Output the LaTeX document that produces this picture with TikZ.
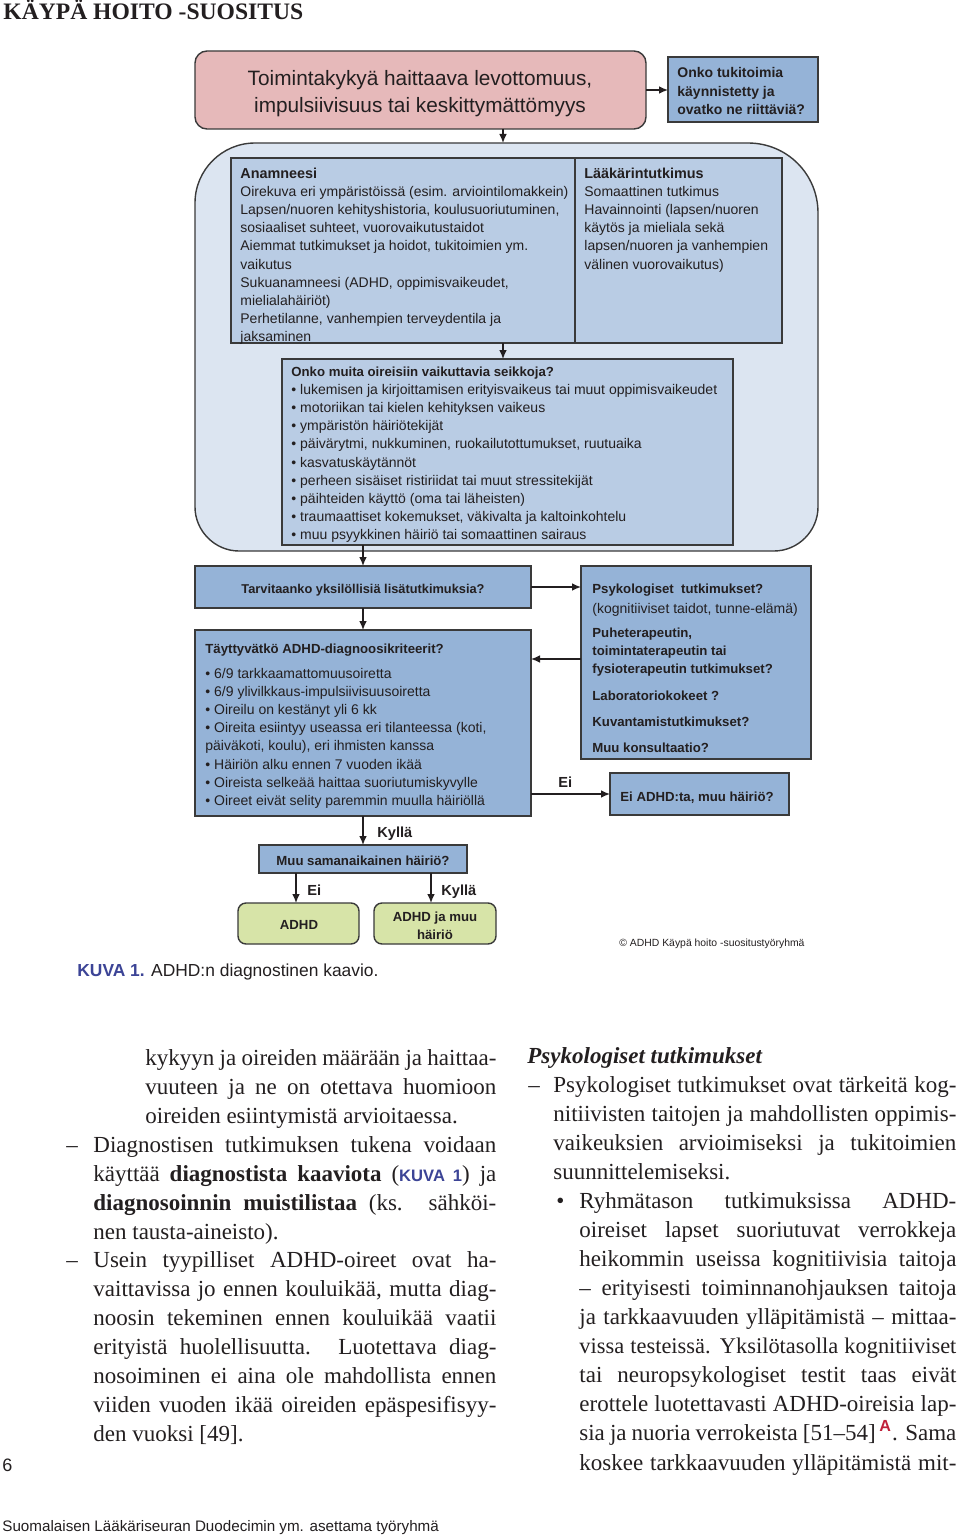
\documentclass[tikz,border=0pt]{standalone}
\usepackage{fontspec}
\setmainfont{Liberation Serif}
\setsansfont{Liberation Sans}
\usetikzlibrary{arrows.meta}
\definecolor{pinkfill}{HTML}{E6B9BA}
\definecolor{midblue}{HTML}{95B3D7}
\definecolor{lightblue}{HTML}{B9CCE4}
\definecolor{paleblue}{HTML}{DCE5F1}
\definecolor{greenfill}{HTML}{D7E4A8}
\definecolor{edge}{HTML}{3A3A3A}
\definecolor{kuvablue}{HTML}{3C4496}
\definecolor{refred}{HTML}{C0203A}
\definecolor{ink}{HTML}{231F20}
\newcommand\diagreg{\sffamily\fontsize{7}{9.1}\selectfont}
\newcommand\diagbf{\sffamily\bfseries\fontsize{6.6}{9.1}\selectfont}
\newcommand\flowbox[6]{\node[boxbase,#1,minimum width={(#4-#2)*0.5pt},minimum height={(#5-#3)*0.5pt}] (#6) at (#2,#3) {};}
\begin{document}
\begin{tikzpicture}[x=0.5pt,y=-0.5pt,
  boxbase/.style={draw=edge,line width=0.7pt,inner sep=0pt,outer sep=0pt,anchor=north west},
  dtxt/.style={inner sep=0pt,anchor=north west,align=left,text=ink,font=\diagreg},
  lbl/.style={inner sep=0pt,anchor=mid west,text=ink,font=\sffamily\bfseries\fontsize{7.3}{9}\selectfont},
  arr/.style={draw=ink,line width=0.65pt,-{Latex[length=4.5pt,width=3.8pt]}},
  body/.style={inner sep=0pt,anchor=mid west,text=ink,font=\fontsize{11.5}{14}\selectfont}]
\fill[white] (0,0) rectangle (960,1536);
\useasboundingbox (0,0) rectangle (960,1536);

% header
\node[anchor=base west,inner sep=0pt,text=ink,font=\fontsize{11.8}{12}\selectfont\bfseries] (hdr) at (3,20) {KÄYPÄ HOITO -SUOSITUS};

% container
\draw[draw=edge,line width=0.7pt,fill=paleblue] (195,400) -- (195,203) .. controls (195,170) and (222,143) .. (255,143)
  -- (748,143) .. controls (787,143) and (818,174) .. (818,213)
  -- (818,507) .. controls (818,531) and (798,551) .. (774,551)
  -- (239,551) .. controls (215,551) and (195,531) .. (195,507) -- cycle;
\coordinate (xa) at (503,0);
\coordinate (conttop) at (503,143);
\coordinate (yp) at (0,659);
\coordinate (xc1) at (296,0);
\coordinate (xc2) at (431,0);

% boxes
\flowbox{fill=pinkfill,rounded corners=6pt}{195}{51}{646}{129}{pink}
\flowbox{fill=midblue}{668}{57}{818}{122}{tuki}
\flowbox{fill=lightblue}{231}{158}{575}{343}{anam}
\flowbox{fill=lightblue}{575}{158}{782}{343}{laak}
\flowbox{fill=lightblue}{282}{359}{733}{545}{muut}
\flowbox{fill=midblue}{195}{566}{531}{608}{tarv}
\flowbox{fill=midblue}{581}{566}{811}{759}{psyk}
\flowbox{fill=midblue}{195}{630}{531}{816}{tayt}
\flowbox{fill=midblue}{610}{773}{789}{815}{eiadhd}
\flowbox{fill=midblue}{259}{845}{467}{873}{muu}
\flowbox{fill=greenfill,rounded corners=4pt}{238}{903}{359}{944}{adhd}
\flowbox{fill=greenfill,rounded corners=4pt}{374}{903}{496}{944}{adhdmuu}

% texts
\node[inner sep=0pt,anchor=north,align=center,text=ink,font=\sffamily\fontsize{10.4}{13.5}\selectfont] (pinktxt) at (420,66.5)
  {\strut Toimintakykyä haittaava levottomuus,\\impulsiivisuus tai keskittymättömyys};
\node[dtxt,font=\sffamily\bfseries\fontsize{7}{9.15}\selectfont] (tukitxt) at (677,64.5)
  {\strut Onko tukitoimia\\käynnistetty ja\\ovatko ne riittäviä?};
\node[dtxt] (anamtxt) at (240,165)
  {\strut{\diagbf\fontsize{7.2}{9.1}\selectfont Anamneesi}\\
   Oirekuva eri ympäristöissä (esim. arviointilomakkein)\\
   Lapsen/nuoren kehityshistoria, koulusuoriutuminen,\\
   sosiaaliset suhteet, vuorovaikutustaidot\\
   Aiemmat tutkimukset ja hoidot, tukitoimien ym.\\
   vaikutus\\
   Sukuanamneesi (ADHD, oppimisvaikeudet,\\
   mielialahäiriöt)\\
   Perhetilanne, vanhempien terveydentila ja\\
   jaksaminen};
\node[dtxt] (laaktxt) at (584,165)
  {\strut{\diagbf\fontsize{7.2}{9.1}\selectfont Lääkärintutkimus}\\
   Somaattinen tutkimus\\
   Havainnointi (lapsen/nuoren\\
   käytös ja mieliala sekä\\
   lapsen/nuoren ja vanhempien\\
   välinen vuorovaikutus)};
\node[dtxt] (muuttxt) at (291,363)
  {\strut{\diagbf Onko muita oireisiin vaikuttavia seikkoja?}\\
   • lukemisen ja kirjoittamisen erityisvaikeus tai muut oppimisvaikeudet\\
   • motoriikan tai kielen kehityksen vaikeus\\
   • ympäristön häiriötekijät\\
   • päivärytmi, nukkuminen, ruokailutottumukset, ruutuaika\\
   • kasvatuskäytännöt\\
   • perheen sisäiset ristiriidat tai muut stressitekijät\\
   • päihteiden käyttö (oma tai läheisten)\\
   • traumaattiset kokemukset, väkivalta ja kaltoinkohtelu\\
   • muu psyykkinen häiriö tai somaattinen sairaus};
\node[inner sep=0pt,anchor=mid,text=ink,font=\sffamily\bfseries\fontsize{6.4}{9}\selectfont] (tarvtxt) at (363,588.5) {Tarvitaanko yksilöllisiä lisätutkimuksia?};
\node[dtxt] (psyktxt) at (592,580)
  {\strut{\diagbf Psykologiset\ \ tutkimukset?}\\[0.9pt]
   (kognitiiviset taidot, tunne-elämä)\\[2.9pt]
   {\diagbf Puheterapeutin,}\\
   {\diagbf toimintaterapeutin tai}\\
   {\diagbf fysioterapeutin tutkimukset?}\\[4.4pt]
   {\diagbf Laboratoriokokeet ?}\\[3.9pt]
   {\diagbf Kuvantamistutkimukset?}\\[3.9pt]
   {\diagbf Muu konsultaatio?}};
\node[dtxt] (tayttxt) at (205,640)
  {\strut{\diagbf Täyttyvätkö ADHD-diagnoosikriteerit?}\\[3.4pt]
   • 6/9 tarkkaamattomuusoiretta\\
   • 6/9 ylivilkkaus-impulsiivisuusoiretta\\
   • Oireilu on kestänyt yli 6 kk\\
   • Oireita esiintyy useassa eri tilanteessa (koti,\\
   päiväkoti, koulu), eri ihmisten kanssa\\
   • Häiriön alku ennen 7 vuoden ikää\\
   • Oireista selkeää haittaa suoriutumiskyvylle\\
   • Oireet eivät selity paremmin muulla häiriöllä};
\node[inner sep=0pt,anchor=mid west,text=ink,font=\diagbf] (eitxt) at (620,796.5) {Ei ADHD:ta, muu häiriö?};
\node[inner sep=0pt,anchor=mid,text=ink,font=\diagbf] (muutxt) at (363,860.5) {Muu samanaikainen häiriö?};
\node[inner sep=0pt,anchor=mid,text=ink,font=\diagbf] (adhdtxt) at (299,924.5) {ADHD};
\node[inner sep=0pt,anchor=north,align=center,text=ink,font=\diagbf] (adhdmuutxt) at (435,908) {\strut ADHD ja muu\\häiriö};

% connectors
\draw[arr] (pink.east) -- (pink.east -| tuki.west);
\draw[arr] (pink.south -| xa) -- (conttop);
\draw[arr] (anam.south -| xa) -- (muut.north -| xa);
\draw[arr] (muut.south -| tarv.north) -- (tarv.north);
\draw[arr] (tarv.east) -- (tarv.east -| psyk.west);
\draw[arr] (tarv.south) -- (tayt.north);
\draw[arr] (psyk.west |- yp) -- (tayt.east |- yp);
\draw[arr] (tayt.east |- eiadhd.west) -- (eiadhd.west);
\draw[arr] (tayt.south) -- (muu.north);
\draw[arr] (muu.south -| xc1) -- (adhd.north -| xc1);
\draw[arr] (muu.south -| xc2) -- (adhdmuu.north -| xc2);

% labels
\node[lbl] (kylla1) at (377,832.5) {Kyllä};
\node[lbl] (ei1) at (558,782.5) {Ei};
\node[lbl] (ei2) at (307,890.5) {Ei};
\node[lbl] (kylla2) at (441,890.5) {Kyllä};

\node[inner sep=0pt,anchor=mid west,text=ink,font=\sffamily\fontsize{5.2}{6}\selectfont] (copy) at (619,941.5) {© ADHD Käypä hoito -suositustyöryhmä};
\node[inner sep=0pt,anchor=mid west,text=ink,font=\sffamily\fontsize{8.7}{10}\selectfont] (caption) at (77,972) {{\color{kuvablue}\bfseries KUVA 1.} ADHD:n diagnostinen kaavio.};

% left column
\node[body] (l1) at (145,1061) {\makebox[175.5pt][s]{kykyyn ja oireiden määrään ja haittaa-}};
\node[body] (l2) at (145,1089.9) {\makebox[175.5pt][s]{vuuteen ja ne on otettava huomioon}};
\node[body] (l3) at (145,1118.8) {oireiden esiintymistä arvioitaessa.};
\node[body] (d1) at (66,1147.7) {–};
\node[body] (l4) at (93,1147.7) {\makebox[201.5pt][s]{Diagnostisen tutkimuksen tukena voidaan}};
\node[body] (l5) at (93,1176.6) {\makebox[201.5pt][s]{käyttää \textbf{diagnostista kaaviota} (\textsf{\bfseries\color{kuvablue}\fontsize{8.3}{10}\selectfont KUVA 1}) ja}};
\node[body] (l6) at (93,1205.5) {\makebox[201.5pt][s]{\textbf{diagnosoinnin muistilistaa} (ks. sähköi-}};
\node[body] (l7) at (93,1234.4) {nen tausta-aineisto).};
\node[body] (d2) at (66,1263.3) {–};
\node[body] (l8) at (93,1263.3) {\makebox[201.5pt][s]{Usein tyypilliset ADHD-oireet ovat ha-}};
\node[body] (l9) at (93,1292.2) {\makebox[201.5pt][s]{vaittavissa jo ennen kouluikää, mutta diag-}};
\node[body] (l10) at (93,1321.1) {\makebox[201.5pt][s]{noosin tekeminen ennen kouluikää vaatii}};
\node[body] (l11) at (93,1350) {\makebox[201.5pt][s]{erityistä huolellisuutta. Luotettava diag-}};
\node[body] (l12) at (93,1378.9) {\makebox[201.5pt][s]{nosoiminen ei aina ole mahdollista ennen}};
\node[body] (l13) at (93,1407.8) {\makebox[201.5pt][s]{viiden vuoden ikää oireiden epäspesifisyy-}};
\node[body] (l14) at (93,1436.7) {den vuoksi [49].};

% right column
\node[body] (r0) at (527,1059) {\textbf{\textit{Psykologiset tutkimukset}}};
\node[body] (d3) at (528,1088) {–};
\node[body] (r1) at (553,1088) {\makebox[201.5pt][s]{Psykologiset tutkimukset ovat tärkeitä kog-}};
\node[body] (r2) at (553,1117) {\makebox[201.5pt][s]{nitiivisten taitojen ja mahdollisten oppimis-}};
\node[body] (r3) at (553,1146) {\makebox[201.5pt][s]{vaikeuksien arvioimiseksi ja tukitoimien}};
\node[body] (r4) at (553,1175) {suunnittelemiseksi.};
\node[body] (b1) at (556,1204) {•};
\node[body] (r5) at (579,1204) {\makebox[188.5pt][s]{Ryhmätason tutkimuksissa ADHD-}};
\node[body] (r6) at (579,1233) {\makebox[188.5pt][s]{oireiset lapset suoriutuvat verrokkeja}};
\node[body] (r7) at (579,1262) {\makebox[188.5pt][s]{heikommin useissa kognitiivisia taitoja}};
\node[body] (r8) at (579,1291) {\makebox[188.5pt][s]{– erityisesti toiminnanohjauksen taitoja}};
\node[body] (r9) at (579,1320) {\makebox[188.5pt][s]{ja tarkkaavuuden ylläpitämistä – mittaa-}};
\node[body] (r10) at (579,1349) {\makebox[188.5pt][s]{\fontsize{11.2}{14}\selectfont vissa testeissä. Yksilötasolla kognitiiviset}};
\node[body] (r11) at (579,1378) {\makebox[188.5pt][s]{tai neuropsykologiset testit taas eivät}};
\node[body] (r12) at (579,1407) {\makebox[188.5pt][s]{erottele luotettavasti ADHD-oireisia lap-}};
\node[body] (r13) at (579,1436) {\makebox[188.5pt][s]{sia ja nuoria verrokeista [51–54]\,\textsuperscript{\sffamily\bfseries\color{refred}A}. Sama}};
\node[body] (r14) at (579,1466) {\makebox[188.5pt][s]{koskee tarkkaavuuden ylläpitämistä mit-}};

% page number and footer
\node[inner sep=0pt,anchor=mid west,text=ink,font=\sffamily\fontsize{9}{10}\selectfont] (pageno) at (2,1467) {6};
\node[inner sep=0pt,anchor=mid west,text=ink,font=\sffamily\fontsize{7.6}{9}\selectfont] (footer) at (2,1527) {Suomalaisen Lääkäriseuran Duodecimin ym. asettama työryhmä};
\end{tikzpicture}
\end{document}
